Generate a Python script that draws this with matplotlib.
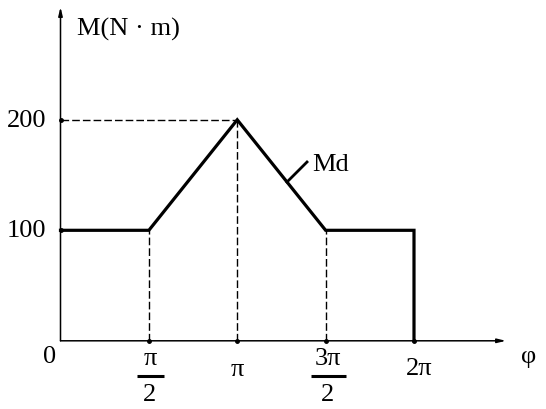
import numpy as np
import matplotlib
matplotlib.use("Agg")
import matplotlib.pyplot as plt

# Driving moment Md over one cycle
phi = [0, np.pi / 2, np.pi, 3 * np.pi / 2, 2 * np.pi, 2 * np.pi]
moment = [100, 100, 200, 100, 100, 0]

x_ticks = [np.pi / 2, np.pi, 3 * np.pi / 2, 2 * np.pi]
y_ticks = [100, 200]
y_tick_labels = ["100", "200"]

W, H = 546, 410
fig = plt.figure(figsize=(W / 100, H / 100), dpi=100)
ax = fig.add_axes([0, 0, 1, 1])
ax.set_axis_off()

# pixel frame: origin at (60.5, 341.8), 2*pi spans 353.5 px, 100 N*m spans 110.5 px
ox, oy, sx, sy = 60.5, 341.8, 353.5 / (2 * np.pi), 1.105
ax.set_xlim(-ox / sx, (W - ox) / sx)
ax.set_ylim((oy - H) / sy, oy / sy)


def px(x, y):
    return (x - ox) / sx, (oy - y) / sy


font = dict(family="Liberation Serif", color="black")
fs = 19

# axes with arrows
x_end = px(506, 0)[0]
y_end = px(0, 8)[1]
ax.annotate("", xy=(x_end, 0), xytext=(0, 0),
            arrowprops=dict(arrowstyle="-|>,head_length=0.5,head_width=0.12",
                            lw=1.1, color="black", shrinkA=0, shrinkB=0))
ax.annotate("", xy=(0, y_end), xytext=(0, 0),
            arrowprops=dict(arrowstyle="-|>,head_length=0.5,head_width=0.12",
                            lw=1.1, color="black", shrinkA=0, shrinkB=0))

# dashed guide lines
dash = (0, (5.5, 2.2))
ax.plot([0, np.pi], [200, 200], color="black", lw=1.0, linestyle=dash)
for xv, yv in zip(phi[1:4], moment[1:4]):
    ax.plot([xv, xv], [0, yv], color="black", lw=1.0, linestyle=dash)

# curve
ax.plot(phi, moment, color="black", lw=2.3, solid_joinstyle="miter")

# small dots where the guides meet the axes
ax.plot(x_ticks, [0] * len(x_ticks), "o", color="black", ms=2.5)
ax.plot([0] * len(y_ticks), y_ticks, "o", color="black", ms=2.5)

# y tick labels
lx = px(46, 0)[0]
for yv, lab in zip(y_ticks, y_tick_labels):
    ax.text(lx, yv, lab, ha="right", va="center", fontsize=fs, **font)
ax.text(*px(50, 357), "0", ha="center", va="center", fontsize=fs, **font)

# x tick labels
ax.text(*px(237, 370), "π", ha="center", va="center", fontsize=fs, **font)
ax.text(*px(419, 369), "2π", ha="center", va="center", fontsize=fs, **font)
for xc, top, half in [(150, "π", 13.5), (328, "3π", 17.5)]:
    ax.text(*px(xc, 359), top, ha="center", va="center", fontsize=fs, **font)
    ax.text(*px(xc, 395), "2", ha="center", va="center", fontsize=fs, **font)
    a = px(xc - half, 377)
    b = px(xc + half, 377)
    ax.plot([a[0], b[0]], [a[1], b[1]], color="black", lw=2.2, solid_capstyle="butt")

ax.text(*px(529, 357), "φ", ha="center", va="center", fontsize=fs, **font)

# axis title
ax.text(*px(77, 29), "M(N · m)", ha="left", va="center", fontsize=fs, **font)

# curve label with leader
p0 = px(287, 183)
p1 = px(307, 163)
ax.plot([p0[0], p1[0]], [p0[1], p1[1]], color="black", lw=2.0)
ax.text(*px(312, 165), "Md", ha="left", va="center", fontsize=fs, **font)

fig.savefig("out.png", dpi=100)
